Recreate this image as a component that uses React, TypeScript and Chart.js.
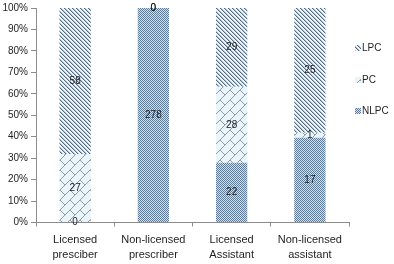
import React, { useEffect, useRef } from "react";
import { Chart, registerables } from "chart.js";

Chart.register(...registerables);

// Categories (two-line labels) and raw counts per group
const categories: string[][] = [
  ["Licensed", "presciber"],
  ["Non-licensed", "prescriber"],
  ["Licensed", "Assistant"],
  ["Non-licensed", "assistant"],
];
const nlpcValues = [0, 278, 22, 17];
const pcValues = [27, 0, 28, 1];
const lpcValues = [58, 0, 29, 25];
const legendNames = ["LPC", "PC", "NLPC"];

const FONT = "'Liberation Sans', Arial, sans-serif";

function makePattern(size: number, draw: (g: CanvasRenderingContext2D, s: number) => void) {
  const c = document.createElement("canvas");
  c.width = size;
  c.height = size;
  const g = c.getContext("2d")!;
  draw(g, size);
  return g.createPattern(c, "repeat")!;
}

// Diagonal "\" hatch
function hatchPattern() {
  return makePattern(4, (g, s) => {
    g.fillStyle = "#eef7fb";
    g.fillRect(0, 0, s, s);
    for (let i = 0; i < s; i++) {
      g.fillStyle = "#556b85";
      g.fillRect(i, i, 1, 1);
      g.fillStyle = "#b3c0cd";
      g.fillRect((i + 1) % s, i, 1, 1);
    }
  });
}

// Fine checker
function checkerPattern() {
  return makePattern(2, (g) => {
    g.fillStyle = "#d6e0e8";
    g.fillRect(0, 0, 2, 2);
    g.fillStyle = "#5f7a94";
    g.fillRect(0, 0, 1, 1);
    g.fillRect(1, 1, 1, 1);
  });
}

// Diagonal brick
function brickPattern() {
  const size = 20;
  const band = size / 2;
  return makePattern(size, (g, s) => {
    g.fillStyle = "#e9f5fb";
    g.fillRect(0, 0, s, s);
    g.strokeStyle = "#8e9ca7";
    g.lineWidth = 1;
    const shifts = [-s, 0, s];
    for (const ox of shifts) {
      for (const oy of shifts) {
        // long "/" lines
        for (let c = 0; c <= 2 * s; c += band) {
          g.beginPath();
          g.moveTo(ox + c, oy);
          g.lineTo(ox, oy + c);
          g.stroke();
        }
        // short "\" connectors, staggered per band
        for (let k = 0; k < 4; k++) {
          const sLo = k * band;
          const sHi = sLo + band;
          const tStart = k % 2 === 0 ? 0 : band;
          for (let t = tStart - 2 * s; t <= 2 * s; t += s) {
            g.beginPath();
            g.moveTo(ox + (sLo + t) / 2, oy + (sLo - t) / 2);
            g.lineTo(ox + (sHi + t) / 2, oy + (sHi - t) / 2);
            g.stroke();
          }
        }
      }
    }
  });
}

export default function App() {
  const ref = useRef<HTMLCanvasElement | null>(null);

  useEffect(() => {
    document.body.style.margin = "0";
    const canvas = ref.current!;
    const totals = nlpcValues.map((v, i) => v + pcValues[i] + lpcValues[i]);
    const pct = (arr: number[]) => arr.map((v, i) => (v / totals[i]) * 100);

    const lpcFill = hatchPattern();
    const pcFill = brickPattern();
    const nlpcFill = checkerPattern();
    const raws = [nlpcValues, pcValues, lpcValues];

    const valueLabels = {
      id: "valueLabels",
      afterDatasetsDraw(chart: any) {
        const ctx = chart.ctx;
        ctx.save();
        ctx.font = `10px ${FONT}`;
        ctx.fillStyle = "#1e1e1e";
        ctx.textAlign = "center";
        ctx.textBaseline = "middle";
        chart.data.datasets.forEach((_: any, di: number) => {
          const meta = chart.getDatasetMeta(di);
          meta.data.forEach((el: any, i: number) => {
            const y = (el.y + el.base) / 2;
            ctx.fillText(String(raws[di][i]), el.x, y);
          });
        });
        ctx.restore();
      },
    };

    const sideLegend = {
      id: "sideLegend",
      afterDraw(chart: any) {
        const ctx = chart.ctx;
        const fills = [lpcFill, pcFill, nlpcFill];
        const ys = [48, 80, 111];
        ctx.save();
        ctx.font = `10px ${FONT}`;
        ctx.textBaseline = "middle";
        legendNames.forEach((name, i) => {
          ctx.fillStyle = fills[i];
          ctx.fillRect(355, ys[i] - 3, 6, 6);
          ctx.fillStyle = "#1e1e1e";
          ctx.fillText(name, 362, ys[i]);
        });
        ctx.restore();
      },
    };

    const chart = new Chart(canvas, {
      type: "bar",
      data: {
        labels: categories,
        datasets: [
          { label: "NLPC", data: pct(nlpcValues), backgroundColor: nlpcFill as any, borderWidth: 0 },
          { label: "PC", data: pct(pcValues), backgroundColor: pcFill as any, borderWidth: 0 },
          { label: "LPC", data: pct(lpcValues), backgroundColor: lpcFill as any, borderWidth: 0 },
        ],
      },
      options: {
        animation: false,
        responsive: false,
        barPercentage: 0.4,
        categoryPercentage: 1,
        layout: { padding: { top: 5, right: 45, bottom: 0, left: 0 } },
        plugins: {
          legend: { display: false },
          tooltip: { enabled: false },
        },
        scales: {
          x: {
            stacked: true,
            grid: { drawOnChartArea: false, tickLength: 4, color: "#8c8c8c" },
            border: { color: "#8c8c8c" },
            ticks: {
              padding: 6,
              color: "#1e1e1e",
              maxRotation: 0,
              autoSkip: false,
              font: { family: FONT, size: 11, lineHeight: 1.35 },
            },
            afterFit: (scale: any) => {
              scale.height = 41.5;
            },
          },
          y: {
            stacked: true,
            min: 0,
            max: 100,
            grid: { drawOnChartArea: false, tickLength: 5, color: "#8c8c8c" },
            border: { color: "#8c8c8c" },
            ticks: {
              stepSize: 10,
              padding: 3,
              color: "#1e1e1e",
              font: { family: FONT, size: 10, lineHeight: 1 },
              callback: (v: any) => `${v}%`,
            },
            afterFit: (scale: any) => {
              scale.width = 36;
            },
          },
        },
      },
      plugins: [valueLabels, sideLegend],
    });

    return () => chart.destroy();
  }, []);

  return (
    <div style={{ width: 394, height: 264, background: "#fff" }}>
      <canvas ref={ref} width={394} height={264} style={{ display: "block" }} />
    </div>
  );
}
